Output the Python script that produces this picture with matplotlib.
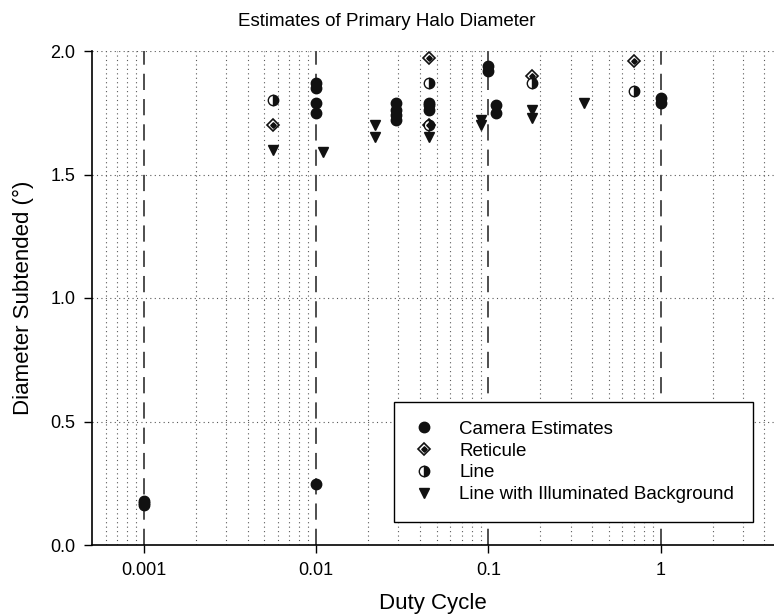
import matplotlib
matplotlib.use("Agg")
import matplotlib.pyplot as plt
from matplotlib.ticker import FixedLocator, NullFormatter

plt.rcParams['font.family'] = ['Liberation Sans', 'DejaVu Sans']

# данні
camera_x = [0.001, 0.001, 0.001, 0.01, 0.01, 0.01, 0.01, 0.01,
            0.029, 0.029, 0.029, 0.029, 0.045, 0.045, 0.045,
            0.1, 0.1, 0.11, 0.11, 1.0, 1.0]
camera_y = [0.18, 0.17, 0.16, 1.87, 1.85, 1.79, 1.75, 0.245,
            1.79, 1.76, 1.74, 1.72, 1.79, 1.78, 1.76,
            1.94, 1.92, 1.78, 1.75, 1.81, 1.79]

reticule_x = [0.0056, 0.045, 0.045, 0.18, 0.7]
reticule_y = [1.70, 1.97, 1.70, 1.90, 1.96]

line_x = [0.0056, 0.045, 0.045, 0.18, 0.7]
line_y = [1.80, 1.87, 1.70, 1.87, 1.84]

illum_x = [0.0056, 0.011, 0.022, 0.022, 0.045, 0.09, 0.09, 0.18, 0.18, 0.36]
illum_y = [1.60, 1.59, 1.70, 1.65, 1.65, 1.72, 1.70, 1.76, 1.73, 1.79]

x_ticks = [0.001, 0.01, 0.1, 1]
x_labels = ['0.001', '0.01', '0.1', '1']
y_ticks = [0.0, 0.5, 1.0, 1.5, 2.0]

fig = plt.figure(figsize=(7.74, 6.14), dpi=100)
ax = fig.add_axes([92 / 774, 69 / 614, 682 / 774, 494 / 614])

ax.set_xscale('log')
ax.set_xlim(0.0005, 4.55)
ax.set_ylim(0, 2.0)

# сітка
minor = [m * 10.0 ** e for e in range(-4, 1) for m in range(2, 10)]
minor = [v for v in minor if 0.0005 < v < 4.55]
for v in minor:
    ax.axvline(v, color='0.35', lw=0.8, ls=(0, (1, 3)), zorder=1)
for v in x_ticks:
    ax.axvline(v, color='0.25', lw=1.3, ls=(0, (9, 5)), zorder=1)
for v in y_ticks[1:]:
    ax.axhline(v, color='0.35', lw=0.8, ls=(0, (1, 3)), zorder=1)

ms = 7.5
h_cam, = ax.plot(camera_x, camera_y, 'o', color='#111111', ms=ms, ls='none', zorder=3)
h_ret1, = ax.plot(reticule_x, reticule_y, 'D', mfc='white', mec='#111111', mew=1.2,
                  ms=6.5, ls='none', zorder=3)
h_ret2, = ax.plot(reticule_x, reticule_y, 'D', color='#111111', ms=2.8, ls='none', zorder=4)
h_line, = ax.plot(line_x, line_y, 'o', fillstyle='right', mfc='#111111', mfcalt='white',
                  mec='#111111', mew=1.0, ms=ms, ls='none', zorder=3)
h_ill, = ax.plot(illum_x, illum_y, 'v', color='#111111', ms=ms, ls='none', zorder=3)

ax.xaxis.set_major_locator(FixedLocator(x_ticks))
ax.set_xticklabels(x_labels)
ax.xaxis.set_minor_locator(FixedLocator([]))
ax.xaxis.set_minor_formatter(NullFormatter())
ax.set_yticks(y_ticks)
ax.set_yticklabels(['%.1f' % v for v in y_ticks])
ax.tick_params(axis='both', direction='out', length=6, width=1, labelsize=13, pad=6)

for s in ['top', 'right']:
    ax.spines[s].set_visible(False)
for s in ['left', 'bottom']:
    ax.spines[s].set_linewidth(1.2)

fig.text(0.5, 1 - 22 / 614, 'Estimates of Primary Halo Diameter', fontsize=13.5,
         ha='center', va='center')
ax.set_xlabel('Duty Cycle', fontsize=16, labelpad=10)
ax.set_ylabel('Diameter Subtended (°)', fontsize=16, labelpad=12)

leg = ax.legend([h_cam, (h_ret1, h_ret2), h_line, h_ill],
                ['Camera Estimates', 'Reticule', 'Line', 'Line with Illuminated Background'],
                loc='lower right', bbox_to_anchor=(0.969, 0.0466), fontsize=13.5,
                frameon=True, fancybox=False, edgecolor='black', framealpha=1,
                borderpad=1.0, labelspacing=0.25, handlelength=1.2, handletextpad=1.3,
                borderaxespad=0)
leg.get_frame().set_linewidth(1.0)

fig.savefig('out.png', dpi=100)
